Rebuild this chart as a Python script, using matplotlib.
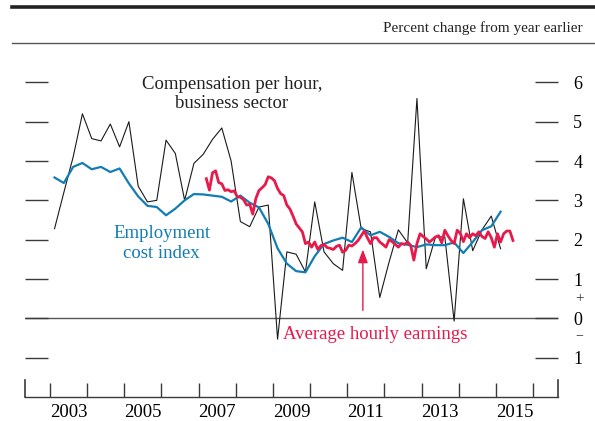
import matplotlib
matplotlib.use('Agg')
import matplotlib.pyplot as plt
from matplotlib.lines import Line2D
import numpy as np
import pandas as pd

plt.rcParams['font.family'] = ['Liberation Serif', 'DejaVu Serif']

# ---------------- data ----------------
quarters = pd.period_range('2003Q1', '2015Q1', freq='Q')
months = pd.period_range('2007-03', '2015-06', freq='M')

comp_per_hour = [
    2.28, 3.20, 4.10, 5.20,
    4.57, 4.51, 4.94, 4.36,
    5.00, 3.36, 2.96, 3.00,
    4.53, 4.19, 3.00, 3.94,
    4.17, 4.55, 4.84, 4.00,
    2.46, 2.33, 2.83, 2.88,
    -0.53, 1.69, 1.63, 1.18,
    2.96, 1.69, 1.39, 1.22,
    3.71, 2.28, 2.20, 0.53,
    1.43, 2.25, 1.92, 5.59,
    1.26, 2.07, 2.07, -0.07,
    3.04, 1.72, 2.25, 2.60,
    1.77,
]

eci = [
    3.58, 3.44, 3.85, 3.95,
    3.79, 3.85, 3.72, 3.81,
    3.43, 3.10, 2.86, 2.83,
    2.62, 2.79, 3.00, 3.16,
    3.15, 3.12, 3.09, 2.97,
    3.12, 2.94, 2.82, 2.40,
    1.78, 1.39, 1.20, 1.17,
    1.58, 1.89, 1.98, 2.05,
    1.94, 2.31, 2.11, 2.20,
    2.07, 1.91, 1.87, 1.81,
    1.88, 1.86, 1.86, 1.93,
    1.66, 1.94, 2.24, 2.34,
    2.71,
]

avg_hourly_earnings = [
    3.55, 3.26, 3.70, 3.75, 3.45, 3.42, 3.25, 3.27, 3.22, 3.24, 3.09, 3.08,
    3.02, 2.88, 2.90, 2.65, 3.05, 3.25, 3.32, 3.40, 3.60, 3.57, 3.50, 3.30,
    3.17, 3.12, 2.88, 2.78, 2.60, 2.40, 2.30, 2.20, 1.90, 1.94, 1.81, 1.94,
    1.75, 1.85, 1.88, 1.80, 1.78, 1.75, 1.83, 1.86, 1.68, 1.73, 1.86, 1.84,
    1.90, 1.98, 2.10, 2.22, 2.05, 1.90, 2.05, 2.05, 1.94, 1.88, 1.81, 2.00,
    1.95, 1.88, 1.81, 1.90, 1.88, 1.94, 1.85, 1.48, 1.90, 2.15, 2.08, 2.02,
    1.94, 2.00, 2.07, 2.10, 1.92, 2.24, 2.10, 1.98, 1.90, 2.24, 2.16, 1.95,
    2.15, 2.05, 2.15, 2.10, 2.20, 2.08, 2.03, 2.20, 2.05, 1.81, 2.15, 1.94,
    2.15, 2.22, 2.22, 1.98,
]

yticks = [-1, 0, 1, 2, 3, 4, 5, 6]
ytick_labels = ['1', '0', '1', '2', '3', '4', '5', '6']
year_ticks = list(range(2003, 2017))
year_labels = ['2003', '2005', '2007', '2009', '2011', '2013', '2015']

# positions (mid-period, decimal years)
xq = np.array([p.year + (p.quarter - 0.5) / 4 for p in quarters])
xm = np.array([p.year + (p.month - 0.5) / 12 for p in months])

BLACK = '#1a1a1a'
BLUE = '#117db3'
RED = '#e8194b'
GREY = '#3a3a3a'

fig = plt.figure(figsize=(5.95, 4.21), dpi=100)
fig.patch.set_facecolor('white')
ax = fig.add_axes([25 / 595, 24 / 421, 533 / 595, 354 / 421])
ax.set_xlim(2002.33, 2016.67)
ax.set_ylim(-2, 7)

ax.axhline(0, color='#555555', lw=1.0, zorder=1)

ax.plot(xq, comp_per_hour, color=BLACK, lw=0.8, zorder=3)
ax.plot(xq, eci, color=BLUE, lw=1.6, zorder=4)
ax.plot(xm, avg_hourly_earnings, color=RED, lw=2.0, zorder=5)

for s in ['left', 'right', 'top']:
    ax.spines[s].set_visible(False)
ax.spines['bottom'].set_color(GREY)
ax.spines['bottom'].set_linewidth(1.0)

ax.set_yticks(yticks)
ax.set_yticklabels(ytick_labels)
ax.tick_params(axis='y', which='major', left=True, right=True, labelleft=False,
               labelright=True, direction='in', length=16.6, width=1.0,
               color=GREY, pad=11, labelsize=13)

ax.set_xticks(year_ticks)
ax.set_xticklabels([])
ax.set_xticks([int(y) + 0.5 for y in year_labels], minor=True)
ax.set_xticklabels(year_labels, minor=True)
ax.tick_params(axis='x', which='major', direction='in', length=10, width=1.0,
               color=GREY, top=False)
ax.tick_params(axis='x', which='minor', length=0, pad=5, labelsize=13.5)

# edge ticks
for xe in (0, 1):
    ax.plot([xe, xe], [0, 17 / 354], transform=ax.transAxes, color=GREY,
            lw=1.2, clip_on=False)

# header lines and unit label
fig.add_artist(Line2D([12 / 595, 1], [1 - 7 / 421] * 2, color='#222222', lw=2.6))
fig.add_artist(Line2D([12 / 595, 1], [1 - 43 / 421] * 2, color='#555555', lw=1.0))
fig.text(583 / 595, 1 - 28 / 421, 'Percent change from year earlier',
         ha='right', va='center', fontsize=11, color='#222222')

# +/- signs around zero
fig.text(575 / 595, 1 - 299 / 421, '+', ha='left', va='center', fontsize=11, color='#333333')
fig.text(575 / 595, 1 - 336 / 421, '\u2212', ha='left', va='center', fontsize=10, color='#333333')

# annotations
ax.text(2007.90, 5.71, 'Compensation per hour,\nbusiness sector', ha='center',
        va='center', fontsize=13.5, color='#222222', linespacing=1.15)
ax.text(2006.01, 1.90, 'Employment\ncost index', ha='center', va='center',
        fontsize=13.5, color=BLUE, linespacing=1.2)
ax.text(2009.27, -0.41, 'Average hourly earnings', ha='left', va='center',
        fontsize=13.5, color=RED)
ax.annotate('', xy=(2011.42, 1.75), xytext=(2011.42, 0.2),
            arrowprops=dict(arrowstyle='-|>,head_length=0.8,head_width=0.3',
                            color=RED, lw=1.0, shrinkA=0, shrinkB=0))

fig.savefig('out.png', dpi=100, facecolor='white')
